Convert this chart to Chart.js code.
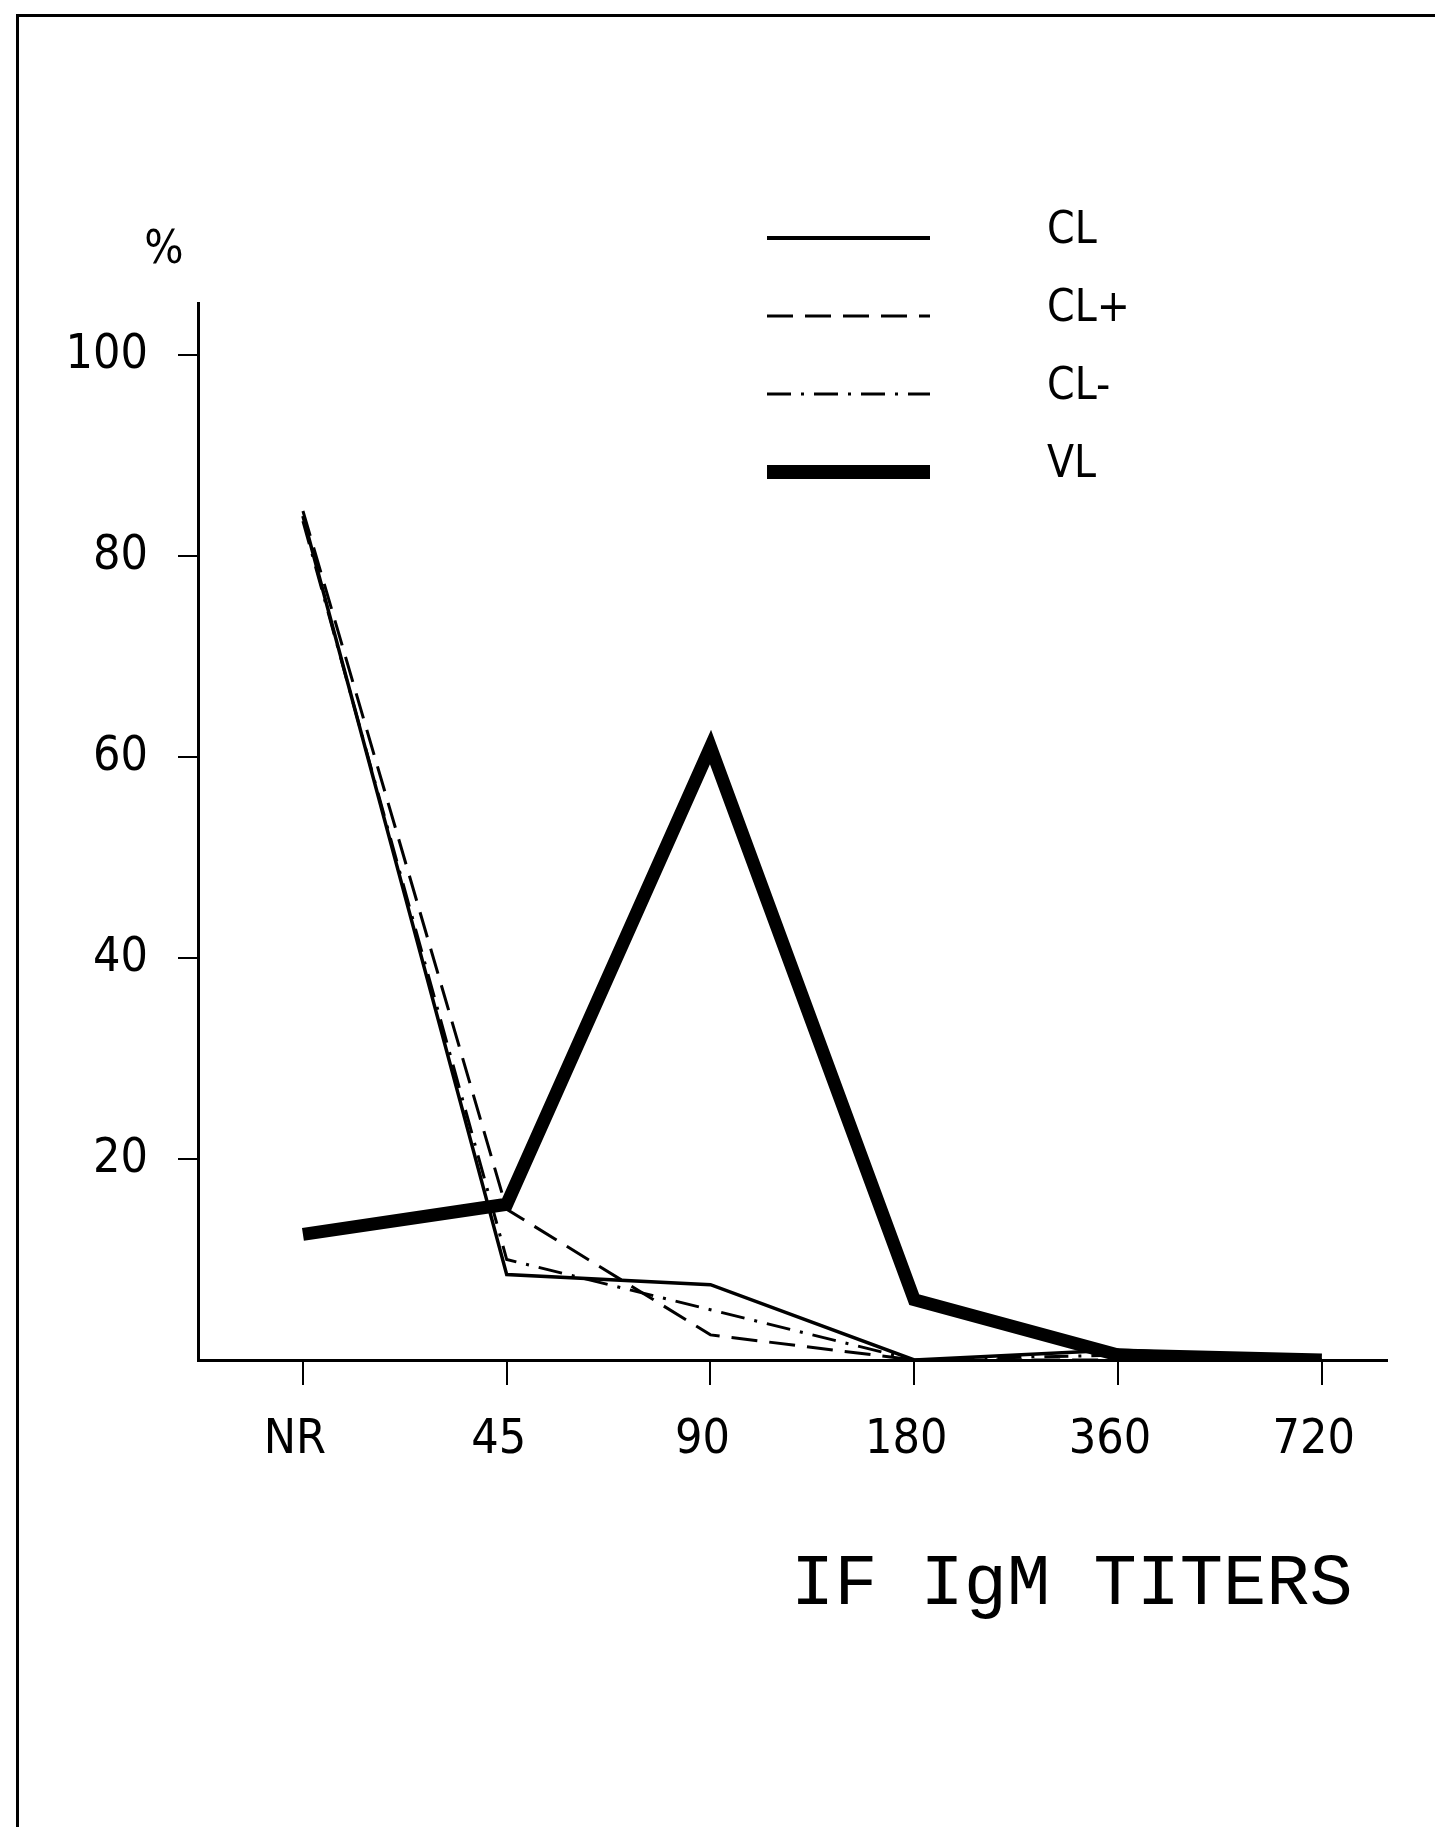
<!DOCTYPE html>
<html>
<head>
<meta charset="utf-8">
<title>IF IgM titers</title>
<script src="https://cdn.jsdelivr.net/npm/chart.js@4.4.1/dist/chart.umd.min.js"></script>
<style>
    html, body { margin: 0; padding: 0; background: #fff; }
    body { width: 1435px; height: 1827px; position: relative; overflow: hidden; }
    #frame {
        position: absolute; left: 16px; top: 14px; right: 0; bottom: 0;
        border-top: 3px solid #000; border-left: 3px solid #000;
    }
    #wrap { position: absolute; left: 0; top: 0; width: 1435px; height: 1827px; }
</style>
</head>
<body>
<div id="frame"></div>
<div id="wrap"><canvas id="titerChart" width="1435" height="1827"></canvas></div>
<script>
// values (% of patients per IF IgM titer)
const titerLabels = ['NR', '45', '90', '180', '360', '720'];
const yTicks = [0, 20, 40, 60, 80, 100];
const clValues = [84, 8.5, 7.5, 0, 1, 0];
const clPlusValues = [84.5, 15, 2.5, 0, 0, 0];
const clMinusValues = [83.5, 10, 5, 0, 0.5, 0];
const vlValues = [12.5, 15.5, 61, 6, 0.5, 0];

const narrowFamily = '"Liberation Sans Narrow", "DejaVu Sans Condensed", "Liberation Sans", sans-serif';
const tickFont = { family: narrowFamily, size: 48 };

const toPoints = values => values.map((v, i) => ({ x: i, y: v }));

// legend drawn as line samples with the names to the right
const legendLines = {
    id: 'legendLines',
    afterDraw(chart, args, opts) {
        const ctx = chart.ctx;
        ctx.save();
        chart.data.datasets.forEach((ds, i) => {
            const y = opts.top + i * opts.rowGap;
            ctx.beginPath();
            ctx.strokeStyle = ds.borderColor;
            ctx.lineWidth = ds.legendWidth || ds.borderWidth;
            ctx.setLineDash(ds.borderDash || []);
            ctx.moveTo(opts.left, y);
            ctx.lineTo(opts.left + opts.lineLength, y);
            ctx.stroke();
            ctx.setLineDash([]);
            ctx.fillStyle = '#000';
            ctx.font = opts.font;
            ctx.textBaseline = 'middle';
            ctx.fillText(ds.label, opts.textX, y - 6);
        });
        ctx.restore();
    }
};

// "%" unit above the y axis and the x axis caption
const axisTexts = {
    id: 'axisTexts',
    afterDraw(chart) {
        const ctx = chart.ctx;
        const area = chart.chartArea;
        ctx.save();
        ctx.fillStyle = '#000';
        ctx.font = '46px ' + narrowFamily;
        ctx.textAlign = 'center';
        ctx.textBaseline = 'middle';
        ctx.fillText('%', area.left - 34, area.top - 52);
        ctx.font = '72px "Liberation Mono", "DejaVu Sans Mono", monospace';
        ctx.textAlign = 'left';
        ctx.textBaseline = 'alphabetic';
        ctx.fillText('IF IgM TITERS', area.left + 593, area.bottom + 244);
        ctx.restore();
    }
};

const ctx = document.getElementById('titerChart');

new Chart(ctx, {
    type: 'line',
    data: {
        datasets: [
            {
                label: 'CL',
                data: toPoints(clValues),
                borderColor: '#000',
                borderWidth: 3.5,
                legendWidth: 4
            },
            {
                label: 'CL+',
                data: toPoints(clPlusValues),
                borderColor: '#000',
                borderWidth: 3,
                borderDash: [26, 12]
            },
            {
                label: 'CL-',
                data: toPoints(clMinusValues),
                borderColor: '#000',
                borderWidth: 3,
                borderDash: [24, 10, 3, 10]
            },
            {
                label: 'VL',
                data: toPoints(vlValues),
                borderColor: '#000',
                borderWidth: 13,
                legendWidth: 14,
                borderCapStyle: 'butt'
            }
        ]
    },
    options: {
        responsive: false,
        animation: false,
        events: [],
        layout: {
            padding: { left: 0, top: 303, right: 48, bottom: 0 }
        },
        elements: {
            point: { radius: 0 },
            line: { tension: 0, fill: false }
        },
        scales: {
            x: {
                type: 'linear',
                min: -0.515,
                max: 5.32,
                afterFit: scale => { scale.height = 467; },
                afterBuildTicks: scale => {
                    scale.ticks = titerLabels.map((l, i) => ({ value: i }));
                },
                border: { display: true, color: '#000', width: 3 },
                grid: {
                    drawOnChartArea: false,
                    drawTicks: true,
                    tickLength: 25,
                    color: '#000',
                    lineWidth: 2
                },
                ticks: {
                    color: '#000',
                    font: tickFont,
                    padding: 27,
                    labelOffset: -8,
                    maxRotation: 0,
                    autoSkip: false,
                    callback: value => titerLabels[value]
                }
            },
            y: {
                min: 0,
                max: 105.2,
                afterFit: scale => { scale.width = 198; },
                afterBuildTicks: scale => {
                    scale.ticks = yTicks.map(v => ({ value: v }));
                },
                border: { display: true, color: '#000', width: 3 },
                grid: {
                    drawOnChartArea: false,
                    drawTicks: true,
                    tickLength: 20,
                    lineWidth: 2,
                    color: c => (c.tick && c.tick.value === 0 ? 'rgba(0,0,0,0)' : '#000')
                },
                ticks: {
                    color: '#000',
                    font: tickFont,
                    padding: 30,
                    callback: value => (value === 0 ? '' : value)
                }
            }
        },
        plugins: {
            legend: { display: false },
            tooltip: { enabled: false },
            legendLines: {
                left: 767,
                top: 238,
                rowGap: 78,
                lineLength: 163,
                textX: 1047,
                font: '44px ' + narrowFamily
            }
        }
    },
    plugins: [legendLines, axisTexts]
});
</script>
</body>
</html>
